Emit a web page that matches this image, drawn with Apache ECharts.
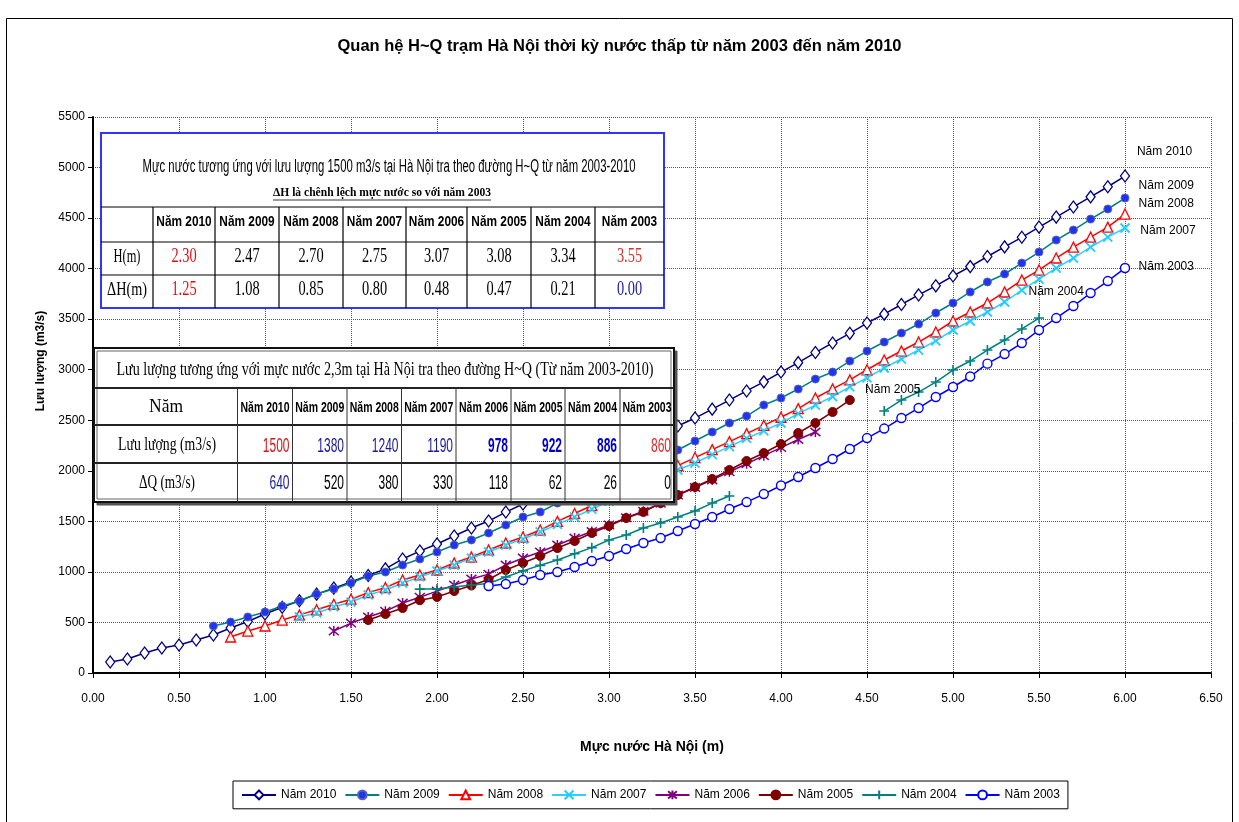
<!DOCTYPE html>
<html><head><meta charset="utf-8">
<script src="https://cdn.jsdelivr.net/npm/echarts@6/dist/echarts.min.js"></script>
<style>html,body{margin:0;padding:0;background:#fff}#c{width:1239px;height:822px}</style>
</head><body><div id="c"></div>
<script>
// ---------- DATA ----------
const chartTitle = 'Quan hệ H~Q trạm Hà Nội thời kỳ nước thấp từ năm 2003 đến năm 2010';
const xName = 'Mực nước Hà Nội (m)';
const yName = 'Lưu lượng (m3/s)';
const seriesNames = ['Năm 2010','Năm 2009','Năm 2008','Năm 2007','Năm 2006','Năm 2005','Năm 2004','Năm 2003'];

const h2010 = [0.1,0.2,0.3,0.4,0.5,0.6,0.7,0.8,0.9,1.0,1.1,1.2,1.3,1.4,1.5,1.6,1.7,1.8,1.9,2.0,2.1,2.2,2.3,2.4,2.5,2.6,2.7,2.8,2.9,3.0,3.1,3.2,3.3,3.4,3.5,3.6,3.7,3.8,3.9,4.0,4.1,4.2,4.3,4.4,4.5,4.6,4.7,4.8,4.9,5.0,5.1,5.2,5.3,5.4,5.5,5.6,5.7,5.8,5.9,6.0];
const q2010 = [109,138,198,247,277,326,376,445,510,584,650,715,780,840,900,965,1030,1128,1206,1276,1355,1434,1503,1592,1672,1760,1850,1940,2030,2115,2195,2280,2360,2443,2522,2610,2700,2790,2880,2977,3070,3170,3265,3360,3462,3550,3645,3740,3830,3927,4020,4120,4215,4310,4411,4510,4610,4710,4810,4916];

const h2009 = [0.7,0.8,0.9,1.0,1.1,1.2,1.3,1.4,1.5,1.6,1.7,1.8,1.9,2.0,2.1,2.2,2.3,2.4,2.5,2.6,2.7,2.8,2.9,3.0,3.1,3.2,3.3,3.4,3.5,3.6,3.7,3.8,3.9,4.0,4.1,4.2,4.3,4.4,4.5,4.6,4.7,4.8,4.9,5.0,5.1,5.2,5.3,5.4,5.5,5.6,5.7,5.8,5.9,6.0];
const q2009 = [465,504,554,603,663,712,781,831,890,959,999,1068,1128,1197,1266,1316,1385,1464,1543,1593,1681,1750,1820,1890,1965,2040,2120,2206,2295,2384,2473,2542,2651,2720,2809,2908,2977,3086,3185,3274,3363,3452,3561,3660,3769,3868,3947,4055,4164,4283,4382,4490,4590,4698];

const h2008 = [0.8,0.9,1.0,1.1,1.2,1.3,1.4,1.5,1.6,1.7,1.8,1.9,2.0,2.1,2.2,2.3,2.4,2.5,2.6,2.7,2.8,2.9,3.0,3.1,3.2,3.3,3.4,3.5,3.6,3.7,3.8,3.9,4.0,4.1,4.2,4.3,4.4,4.5,4.6,4.7,4.8,4.9,5.0,5.1,5.2,5.3,5.4,5.5,5.6,5.7,5.8,5.9,6.0];
const q2008 = [356,415,465,524,575,625,680,730,795,845,920,970,1019,1088,1147,1217,1286,1345,1414,1500,1578,1657,1736,1815,1894,1973,2052,2131,2210,2289,2368,2450,2530,2615,2720,2810,2900,3000,3096,3185,3274,3373,3482,3571,3660,3769,3887,3986,4105,4213,4312,4411,4540];

const h2007 = [1.2,1.3,1.4,1.5,1.6,1.7,1.8,1.9,2.0,2.1,2.2,2.3,2.4,2.5,2.6,2.7,2.8,2.9,3.0,3.1,3.2,3.3,3.4,3.5,3.6,3.7,3.8,3.9,4.0,4.1,4.2,4.3,4.4,4.5,4.6,4.7,4.8,4.9,5.0,5.1,5.2,5.3,5.4,5.5,5.6,5.7,5.8,5.9,6.0];
const q2007 = [554,594,653,702,772,821,890,950,1009,1068,1137,1197,1266,1325,1395,1470,1543,1620,1698,1775,1853,1930,2008,2077,2160,2240,2320,2395,2473,2565,2650,2735,2830,2920,3017,3106,3195,3285,3393,3482,3571,3670,3788,3897,4006,4105,4213,4312,4402];

const h2006 = [1.4,1.5,1.6,1.7,1.8,1.9,2.0,2.1,2.2,2.3,2.4,2.5,2.6,2.7,2.8,2.9,3.0,3.1,3.2,3.3,3.4,3.5,3.6,3.7,3.8,3.9,4.0,4.1,4.2];
const q2006 = [415,494,554,610,692,750,810,870,930,978,1068,1137,1197,1266,1335,1400,1465,1535,1600,1680,1760,1835,1910,1990,2070,2150,2230,2310,2384];

const h2005 = [1.6,1.7,1.8,1.9,2.0,2.1,2.2,2.3,2.4,2.5,2.6,2.7,2.8,2.9,3.0,3.1,3.2,3.3,3.4,3.5,3.6,3.7,3.8,3.9,4.0,4.1,4.2,4.3,4.4];
const q2005 = [524,584,643,720,752,811,865,925,1019,1088,1157,1236,1306,1385,1454,1533,1593,1681,1761,1840,1919,2008,2097,2176,2265,2374,2473,2582,2700];

const h2004 = [1.9,2.0,2.1,2.2,2.3,2.4,2.5,2.6,2.7,2.8,2.9,3.0,3.1,3.2,3.3,3.4,3.5,3.6,3.7,3.8,3.9,4.0,4.1,4.2,4.3,4.4,4.5,4.6,4.7,4.8,4.9,5.0,5.1,5.2,5.3,5.4,5.5];
const q2004 = [830,830,851,870,886,950,1010,1065,1118,1180,1240,1316,1365,1434,1484,1543,1602,1681,1751,'-','-','-','-','-','-','-','-',2591,2700,2779,2878,2997,3086,3195,3294,3403,3511];

const h2003 = [2.3,2.4,2.5,2.6,2.7,2.8,2.9,3.0,3.1,3.2,3.3,3.4,3.5,3.6,3.7,3.8,3.9,4.0,4.1,4.2,4.3,4.4,4.5,4.6,4.7,4.8,4.9,5.0,5.1,5.2,5.3,5.4,5.5,5.6,5.7,5.8,5.9,6.0];
const q2003 = [860,880,920,969,999,1049,1108,1157,1227,1286,1335,1405,1474,1543,1622,1691,1770,1855,1939,2028,2117,2216,2324,2418,2522,2621,2730,2829,2933,3060,3155,3264,3393,3511,3630,3759,3877,4006];

// table 1
const t1Title = 'Mực nước tương ứng với lưu lượng 1500 m3/s tại Hà Nội tra theo đường H~Q từ năm 2003-2010';
const t1Sub = 'ΔH là chênh lệch mực nước so với năm 2003';
const t1RowNames = ['H(m)','ΔH(m)'];
const t1H = ['2.30','2.47','2.70','2.75','3.07','3.08','3.34','3.55'];
const t1dH = ['1.25','1.08','0.85','0.80','0.48','0.47','0.21','0.00'];
// table 2
const t2Title = 'Lưu lượng tương ứng với mực nước 2,3m tại Hà Nội tra theo đường H~Q (Từ năm 2003-2010)';
const t2RowNames = ['Năm','Lưu lượng (m3/s)','ΔQ (m3/s)'];
const t2Q = ['1500','1380','1240','1190','978','922','886','860'];
const t2dQ = ['640','520','380','330','118','62','26','0'];

// ---------- STYLE / LAYOUT ----------
const labelPos = {
  'Năm 2010':[6.23,5154],'Năm 2009':[6.24,4818],'Năm 2008':[6.24,4639],'Năm 2007':[6.25,4372],
  'Năm 2003':[6.24,4016],'Năm 2004':[5.60,3769],'Năm 2005':[4.65,2799]
};
const X_SYM = 'path://M0,0L10,10M10,0L0,10';
const STAR_SYM = 'path://M0,0L10,10M10,0L0,10M5,-1L5,11';
const PLUS_SYM = 'path://M5,0L5,10M0,5L10,5';

const sStyle = {
  'Năm 2010':{line:'#000080', symbol:'diamond', size:[9,12], item:{color:'#fff', borderColor:'#000080', borderWidth:1.3}},
  'Năm 2009':{line:'#008080', symbol:'circle', size:8, item:{color:'#2233ee', borderColor:'#5566bb', borderWidth:1}},
  'Năm 2008':{line:'#ff0000', symbol:'triangle', size:10, item:{color:'#fff', borderColor:'#ff0000', borderWidth:1.3}},
  'Năm 2007':{line:'#33ccff', symbol:X_SYM, size:9, item:{color:'none', borderColor:'#22ccff', borderWidth:1.8}},
  'Năm 2006':{line:'#800080', symbol:STAR_SYM, size:10, item:{color:'none', borderColor:'#800080', borderWidth:1.5}},
  'Năm 2005':{line:'#800000', symbol:'circle', size:9, item:{color:'#800000', borderColor:'#800000', borderWidth:1}},
  'Năm 2004':{line:'#008080', symbol:PLUS_SYM, size:10, item:{color:'none', borderColor:'#008080', borderWidth:1.6}},
  'Năm 2003':{line:'#0000ff', symbol:'circle', size:9, item:{color:'#fff', borderColor:'#0000ff', borderWidth:1.4}}
};
const seriesData = {
  'Năm 2010':[h2010,q2010],'Năm 2009':[h2009,q2009],'Năm 2008':[h2008,q2008],'Năm 2007':[h2007,q2007],
  'Năm 2006':[h2006,q2006],'Năm 2005':[h2005,q2005],'Năm 2004':[h2004,q2004],'Năm 2003':[h2003,q2003]
};

const ctx = document.createElement('canvas').getContext('2d');
function measure(text, fw, fs, fam){ ctx.font = fw+' '+fs+'px "'+fam+'"'; return ctx.measureText(text).width; }
function T(x, y, text, o){
  const fs=o.fs, fam=o.fam||'Liberation Sans', fw=o.fw||'normal';
  let sx = o.sx || 1;
  if (o.w) sx = o.w / measure(text, fw, fs, fam);
  return {type:'text', x:x, y:y, scaleX:sx, z:110, silent:true,
    style:{text:text, x:0, y:0, align:o.align||'center', verticalAlign:'middle',
      fontSize:fs, fontFamily:fam, fontWeight:fw, fill:o.color||'#000'}};
}
function L(x1,y1,x2,y2,c,w){ return {type:'line', z:108, silent:true, shape:{x1,y1,x2,y2}, style:{stroke:c, lineWidth:w}}; }
function R(x,y,w,h,fill,stroke,lw){ return {type:'rect', z:106, silent:true, shape:{x,y,width:w,height:h}, style:{fill:fill, stroke:stroke, lineWidth:lw}}; }

const g = [];
// outer frame
g.push({type:'rect', z:-1, silent:true, shape:{x:6.5,y:18.5,width:1226,height:820}, style:{fill:'none', stroke:'#000', lineWidth:1}});
// y axis name
g.push({type:'text', x:41, y:361, rotation:Math.PI/2, z:50, silent:true,
  style:{text:yName, align:'center', verticalAlign:'middle', fontSize:12, fontWeight:'bold', fontFamily:'Liberation Sans', fill:'#000'}});

// ----- table 1 -----
(function(){
  const left=101, right=664, top=133, bottom=308;
  const cols=[101,153,215,279,343,406,467,531,595,664];
  const rows=[207,242,275,308];
  g.push(R(left,top,right-left,bottom-top,'#fff','#3333ff',2));
  for (let i=0;i<3;i++) g.push(L(left,rows[i],right,rows[i],'#000',1.2));
  for (let i=1;i<cols.length-1;i++) g.push(L(cols[i],rows[0],cols[i],bottom,'#000',1.2));
  g.push(T(389,167,t1Title,{fs:18,w:493}));
  g.push(T(382,193,t1Sub,{fs:12,fam:'Liberation Serif',fw:'bold',w:218}));
  g.push(L(273,200,491,200,'#000',0.8));
  const cx = i => (cols[i]+cols[i+1])/2;
  g.push(T(cx(0),257,t1RowNames[0],{fs:19,fam:'Liberation Serif',w:27}));
  g.push(T(cx(0),290,t1RowNames[1],{fs:19,fam:'Liberation Serif',w:40}));
  const hColor=['#e01010','#000','#000','#000','#000','#000','#000','#d83030'];
  const dColor=['#e01010','#000','#000','#000','#000','#000','#000','#1a1aa8'];
  for (let i=0;i<8;i++){
    g.push(T(cx(i+1),222,seriesNames[i],{fs:15,fw:'bold',sx:0.79}));
    g.push(T(cx(i+1),257,t1H[i],{fs:20,fam:'Liberation Serif',sx:0.72,color:hColor[i]}));
    g.push(T(cx(i+1),290,t1dH[i],{fs:20,fam:'Liberation Serif',sx:0.72,color:dColor[i]}));
  }
})();

// ----- table 2 -----
(function(){
  const left=94, right=674, top=348, bottom=502;
  const cols=[94,237.5,292.5,347,401.5,456,511,565,620,674];
  const rows=[388,425,463];
  g.push(R(left+3,top+3,right-left,bottom-top,'#555','#555',1));
  g.push(R(left,top,right-left,bottom-top,'#fff','#111',2));
  g.push(R(left+3,top+3,right-left-6,bottom-top-6,'none','#666',1));
  for (let i=0;i<3;i++) g.push(L(left,rows[i],right,rows[i],'#222',2));
  for (let i=1;i<cols.length-1;i++) g.push(L(cols[i],rows[0],cols[i],bottom,'#333',1));
  g.push(T(385,370,t2Title,{fs:19,fam:'Liberation Serif',w:537}));
  g.push(T(166,407,t2RowNames[0],{fs:18,fam:'Liberation Serif',w:34}));
  g.push(T(167,445,t2RowNames[1],{fs:19,fam:'Liberation Serif',w:98}));
  g.push(T(167,483,t2RowNames[2],{fs:19,fam:'Liberation Serif',w:56}));
  const qColor=['#d01818','#1a1a99','#1a1a99','#1a1a99','#0000cc','#0000cc','#0000cc','#e02828'];
  const qWeight=['normal','normal','normal','normal','bold','bold','bold','normal'];
  const dColor=['#1a1a99','#000','#000','#000','#000','#000','#000','#000'];
  for (let i=0;i<8;i++){
    const cx=(cols[i+1]+cols[i+2])/2;
    g.push(T(cx,408,seriesNames[i],{fs:14,fw:'bold',sx:0.75}));
    g.push(T(cols[i+2]-3,446,t2Q[i],{fs:20,sx:0.6,align:'right',color:qColor[i],fw:qWeight[i]}));
    g.push(T(cols[i+2]-3,483,t2dQ[i],{fs:20,sx:0.6,align:'right',color:dColor[i]}));
  }
})();

const series = seriesNames.map(name => {
  const st = sStyle[name];
  const d = seriesData[name];
  const s = {
    name: name, type:'line', data: d[0].map((h,i)=>[h, d[1][i]]),
    symbol: st.symbol, symbolSize: st.size, showAllSymbol:true, connectNulls:false,
    lineStyle:{color:st.line, width:1.5}, itemStyle: st.item, z:3
  };
  if (labelPos[name]) {
    s.markPoint = {symbol:'rect', symbolSize:1, itemStyle:{color:'rgba(0,0,0,0)'}, silent:true,
      label:{show:true, position:'inside', color:'#000', fontSize:12, fontFamily:'Liberation Sans', formatter:name},
      data:[{coord:labelPos[name]}]};
  }
  return s;
});

const chart = echarts.init(document.getElementById('c'), null, {renderer:'canvas'});
chart.setOption({
  animation:false,
  backgroundColor:'#fff',
  title:{text:chartTitle, left:'center', top:33, textStyle:{fontSize:16.5, fontWeight:'bold', fontFamily:'Liberation Sans', color:'#000'}},
  grid:{left:93, right:28, top:117, bottom:149, containLabel:false},
  legend:{data:seriesNames, left:233, top:781, orient:'horizontal', padding:[7,8], itemGap:8, itemWidth:34, itemHeight:11,
    borderColor:'#000', borderWidth:1, textStyle:{fontSize:12, fontFamily:'Liberation Sans', color:'#000'}},
  xAxis:{type:'value', min:0, max:6.5, interval:0.5, name:xName, nameLocation:'middle', nameGap:67,
    nameTextStyle:{fontSize:14, fontWeight:'bold', fontFamily:'Liberation Sans', color:'#000'},
    axisLine:{onZero:false, lineStyle:{color:'#000', width:2}}, axisTick:{show:true, length:5, lineStyle:{color:'#000'}},
    axisLabel:{margin:20, fontSize:12, fontFamily:'Liberation Sans', color:'#000', formatter:v=>v.toFixed(2)},
    splitLine:{show:true, lineStyle:{color:'#555', type:'dotted', width:1}}},
  yAxis:{type:'value', min:0, max:5500, interval:500,
    axisLine:{show:true, lineStyle:{color:'#000', width:2}}, axisTick:{show:true, length:5, lineStyle:{color:'#000'}},
    axisLabel:{margin:8, fontSize:12, fontFamily:'Liberation Sans', color:'#000', formatter:v=>String(v)},
    splitLine:{show:true, lineStyle:{color:'#555', type:'dotted', width:1}}},
  graphic:{elements:g},
  series: series
});
</script></body></html>
